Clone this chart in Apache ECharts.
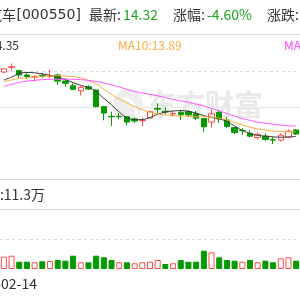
<!DOCTYPE html>
<html><head><meta charset="utf-8">
<script src="https://cdn.jsdelivr.net/npm/echarts@6/dist/echarts.min.js"></script>
<style>html,body{margin:0;padding:0;background:#fff;}#c{width:300px;height:300px;}</style>
</head><body><div id="c"></div>
<script>
const categories = ['02-21','02-22','02-23','02-24','02-27','02-28','03-01','03-02','03-03','03-06','03-07','03-08','03-09','03-10','03-13','03-14','03-15','03-16','03-17','03-20','03-21','03-22','03-23','03-24','03-27','03-28','03-29','03-30','03-31','04-03','04-04','04-06','04-07','04-10','04-11','04-12','04-13','04-14','04-17'];
const openP  = [11.97,12.10,12.01,11.89,11.83,11.88,11.85,11.89,11.72,11.59,11.45,11.56,11.47,11.01,10.74,10.74,10.73,10.67,10.62,10.69,10.96,10.88,10.81,10.85,10.87,10.81,10.68,10.58,10.85,10.64,10.43,10.35,10.27,10.15,10.19,10.09,10.08,10.16,10.36];
const closeP = [12.06,12.12,11.89,11.85,11.84,11.86,11.86,11.72,11.66,11.49,11.54,11.50,11.01,10.83,10.73,10.73,10.58,10.61,10.63,10.87,10.94,10.86,10.82,10.79,10.78,10.69,10.45,10.81,10.67,10.46,10.29,10.34,10.19,10.24,10.10,10.08,10.22,10.33,10.25];
const lowP   = [11.94,12.01,11.81,11.78,11.71,11.81,11.80,11.61,11.56,11.47,11.32,11.47,10.99,10.63,10.47,10.65,10.49,10.56,10.47,10.67,10.83,10.80,10.73,10.64,10.72,10.64,10.31,10.43,10.56,10.42,10.25,10.22,10.16,10.10,10.06,9.97,10.04,10.13,10.22];
const highP  = [12.08,12.21,12.03,11.94,11.89,11.94,12.03,11.92,11.80,11.66,11.58,11.60,11.49,11.03,10.87,10.83,10.75,10.71,10.71,10.90,11.10,10.99,10.89,10.92,10.92,10.89,10.69,10.92,10.92,10.72,10.45,10.41,10.36,10.29,10.27,10.16,10.27,10.38,10.39];
const ma5  = [11.75,11.83,11.93,11.96,11.95,11.92,11.88,11.83,11.76,11.68,11.60,11.54,11.43,11.24,11.06,10.86,10.70,10.65,10.65,10.71,10.80,10.86,10.89,10.90,10.88,10.83,10.76,10.71,10.67,10.60,10.47,10.35,10.26,10.21,10.19,10.17,10.16,10.17,10.18];
const ma10 = [11.71,11.75,11.79,11.81,11.83,11.85,11.86,11.87,11.86,11.84,11.81,11.74,11.64,11.50,11.35,11.22,11.12,11.01,10.93,10.85,10.81,10.78,10.76,10.75,10.74,10.73,10.73,10.72,10.69,10.64,10.57,10.50,10.44,10.39,10.36,10.33,10.32,10.31,10.31];
const ma20 = [11.57,11.63,11.68,11.72,11.74,11.76,11.77,11.77,11.77,11.77,11.76,11.74,11.71,11.67,11.61,11.56,11.49,11.43,11.39,11.35,11.31,11.26,11.21,11.17,11.13,11.08,11.03,10.96,10.89,10.82,10.75,10.68,10.63,10.58,10.55,10.52,10.50,10.48,10.47];
const volume = [12.3,13.3,7.3,7.3,6.7,7.7,8,9,8.3,13.3,6.7,6.7,13.3,11.7,9,6.7,6.7,5.7,6.7,7.3,9,5,5.7,9,7.3,7.3,18.3,16.7,11.7,9,8.3,7.3,9,6.7,8.3,6.7,10.7,11.7,8.3];
const volUp  = [1,1,0,0,1,0,1,0,0,0,1,0,0,0,0,1,0,1,1,1,1,0,1,0,0,0,0,1,0,0,0,1,0,1,0,0,1,1,0];
const priceTicks = [9, 12];
const volTicks = [0, 30];
const stockName = '江铃汽车', stockCode = '[000550]';
const latestLabel = '最新:', latestValue = '14.32';
const pctLabel = '涨幅:', pctValue = '-4.60%';
const chgLabel = '涨跌:', chgValue = '-0.69';
const ma5Text = 'MA5:14.35', ma10Text = 'MA10:13.89', ma20Text = 'MA20:13.15';
const volText = '成交量:11.3万';
const startDate = '2023-02-14';
const watermark = '东方财富';

const RED = '#ff4b4b', GREEN = '#049a04', GRID = '#dcdcdc';
const FONT = '"Noto Sans CJK SC", "Microsoft YaHei", sans-serif';
const chart = echarts.init(document.getElementById('c'), null, {renderer: 'canvas'});

function txt(x, y, text, fill, size, align, family) {
  return {type: 'text', x: x, y: y, z: 10, style: {text: text, fill: fill, font: size + 'px ' + (family || FONT), align: align || 'left', verticalAlign: 'middle'}};
}
function hline(y, color, w) {
  return {type: 'line', z: 1, shape: {x1: 0, y1: y, x2: 300, y2: y}, style: {stroke: color, lineWidth: w || 1}};
}

const candleData = categories.map((c, i) => [openP[i], closeP[i], lowP[i], highP[i]]);
const volData = volume.map((v, i) => ({
  value: v,
  itemStyle: volUp[i] ? {color: '#fff', borderColor: RED, borderWidth: 1} : {color: GREEN, borderColor: GREEN, borderWidth: 1}
}));

chart.setOption({
  animation: false,
  backgroundColor: '#fff',
  grid: [
    {left: -0.7, right: -5.4, top: 71, height: 108},
    {left: -0.7, right: -5.4, top: 239, height: 30}
  ],
  xAxis: [
    {type: 'category', data: categories, gridIndex: 0, boundaryGap: true,
     axisLine: {show: true, lineStyle: {color: GRID, width: 1}}, axisTick: {show: false}, axisLabel: {show: false}, splitLine: {show: false}},
    {type: 'category', data: categories, gridIndex: 1, boundaryGap: true,
     axisLine: {show: false}, axisTick: {show: false}, axisLabel: {show: false}, splitLine: {show: false}}
  ],
  yAxis: [
    {type: 'value', gridIndex: 0, min: priceTicks[0], max: priceTicks[1], interval: priceTicks[1] - priceTicks[0],
     axisLine: {show: false}, axisTick: {show: false}, axisLabel: {show: false},
     splitLine: {show: true, lineStyle: {color: ['rgba(0,0,0,0)', GRID], type: [3, 3], width: 1}}},
    {type: 'value', gridIndex: 1, min: volTicks[0], max: volTicks[1], interval: volTicks[1] - volTicks[0],
     axisLine: {show: false}, axisTick: {show: false}, axisLabel: {show: false},
     splitLine: {show: true, lineStyle: {color: ['rgba(0,0,0,0)', GRID], type: [3, 3], width: 1}}}
  ],
  series: [
    {type: 'candlestick', xAxisIndex: 0, yAxisIndex: 0, data: candleData, barWidth: 6, clip: false, z: 3,
     itemStyle: {color: '#fff', color0: GREEN, borderColor: RED, borderColor0: GREEN, borderWidth: 1}},
    {type: 'line', data: ma5, xAxisIndex: 0, yAxisIndex: 0, symbol: 'none', smooth: 0.3, clip: false, z: 4,
     lineStyle: {color: '#3a3a3a', width: 1}},
    {type: 'line', data: ma10, xAxisIndex: 0, yAxisIndex: 0, symbol: 'none', smooth: 0.3, clip: false, z: 4,
     lineStyle: {color: '#f8ad3c', width: 1}},
    {type: 'line', data: ma20, xAxisIndex: 0, yAxisIndex: 0, symbol: 'none', smooth: 0.3, clip: false, z: 4,
     lineStyle: {color: '#ff55ff', width: 1}},
    {type: 'bar', xAxisIndex: 1, yAxisIndex: 1, data: volData, barWidth: 6}
  ],
  graphic: [
    hline(34.5, GRID),
    hline(209.5, GRID),
    {type: 'line', z: 0, shape: {x1: 0, y1: 107.5, x2: 300, y2: 107.5}, style: {stroke: '#ebebeb', lineWidth: 1.5}},
    {type: 'circle', z: 0, shape: {cx: 128, cy: 104, r: 15}, style: {fill: '#eeeeee'}},
    {type: 'arc', z: 0, shape: {cx: 122, cy: 112, r: 14, startAngle: -1.4, endAngle: 0.2}, style: {stroke: '#fff', lineWidth: 2, fill: null}},
    {type: 'arc', z: 0, shape: {cx: 118, cy: 118, r: 20, startAngle: -1.3, endAngle: 0.0}, style: {stroke: '#fff', lineWidth: 2, fill: null}},
    {type: 'text', z: 0, x: 147, y: 105, style: {text: watermark, fill: '#e9e9e9', font: 'bold 29px ' + FONT, align: 'left', verticalAlign: 'middle'}},
    txt(16, 15, stockName, '#333', 14, 'right'),
    txt(16.5, 15, stockCode, '#333', 14, 'left', '"DejaVu Sans", sans-serif'),
    txt(89, 15, latestLabel, '#333', 14),
    txt(123, 15, latestValue, '#1ea51e', 14),
    txt(173, 15, pctLabel, '#333', 14),
    txt(207, 15, pctValue, '#1ea51e', 14),
    txt(267, 15, chgLabel, '#333', 14),
    txt(301, 15, chgValue, '#1ea51e', 14),
    txt(19, 45, ma5Text, '#333', 12, 'right'),
    txt(118, 45, ma10Text, '#f8ad3c', 12),
    txt(284, 45, ma20Text, '#ff44ff', 12),
    txt(45, 195, volText, '#333', 14, 'right'),
    txt(37, 284, startDate, '#333', 14, 'right')
  ]
});
</script>
</body></html>
